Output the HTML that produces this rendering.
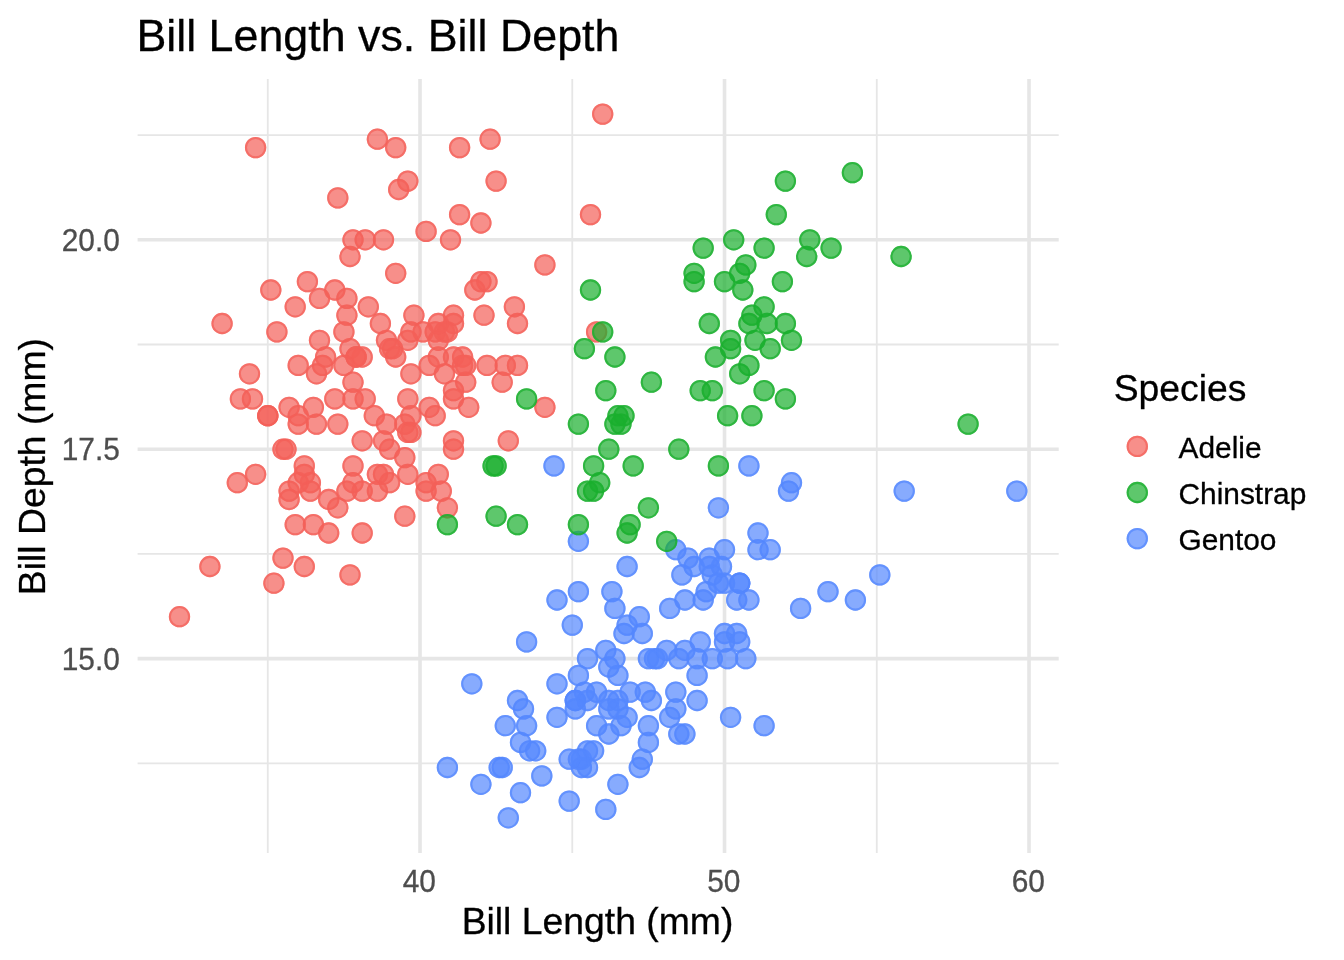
<!DOCTYPE html>
<html lang="en"><head><meta charset="utf-8"><title>Bill Length vs. Bill Depth</title>
<style>
html,body{margin:0;padding:0;background:#fff;}
body{width:1344px;height:960px;overflow:hidden;}
svg{display:block;}
text{font-family:"Liberation Sans",Arial,Helvetica,sans-serif;}
.t{font-size:44.8px;fill:#000;stroke:#000;stroke-width:.3;}
.at{font-size:37.33px;fill:#000;stroke:#000;stroke-width:.3;}
.ax{font-size:29.87px;fill:#4D4D4D;stroke:#4D4D4D;stroke-width:.3;}
.lg{font-size:29.87px;fill:#000;stroke:#000;stroke-width:.3;}
.mj{stroke:#E6E6E6;stroke-width:3.62;fill:none;}
.mn{stroke:#E6E6E6;stroke-width:1.81;fill:none;}
.pa{fill:#F46058;stroke:#F46058;}
.pg{fill:#5488FE;stroke:#5488FE;}
.pc{fill:#19AF2D;stroke:#19AF2D;}
.d{fill-opacity:0.7;stroke:none;}
.r{fill:none;stroke-opacity:0.7;stroke-width:2.05;}
</style></head><body>
<svg width="1344" height="960" viewBox="0 0 1344 960">
<rect x="0" y="0" width="1344" height="960" fill="#ffffff"/>
<defs><g id="p"><circle class="d" r="10.65"/><circle class="r" r="9.625"/></g></defs>
<g class="mn"><line x1="137.60" x2="1058.70" y1="763.36" y2="763.36"/><line x1="137.60" x2="1058.70" y1="553.92" y2="553.92"/><line x1="137.60" x2="1058.70" y1="344.47" y2="344.47"/><line x1="137.60" x2="1058.70" y1="135.03" y2="135.03"/><line x1="267.77" x2="267.77" y1="78.90" y2="853.00"/><line x1="572.27" x2="572.27" y1="78.90" y2="853.00"/><line x1="876.76" x2="876.76" y1="78.90" y2="853.00"/></g>
<g class="mj"><line x1="137.60" x2="1058.70" y1="658.64" y2="658.64"/><line x1="137.60" x2="1058.70" y1="449.19" y2="449.19"/><line x1="137.60" x2="1058.70" y1="239.75" y2="239.75"/><line x1="420.02" x2="420.02" y1="78.90" y2="853.00"/><line x1="724.52" x2="724.52" y1="78.90" y2="853.00"/><line x1="1029.01" x2="1029.01" y1="78.90" y2="853.00"/></g>
<g class="pa"><use href="#p" x="392.6" y="348.7"/><use href="#p" x="404.8" y="457.6"/><use href="#p" x="429.2" y="407.3"/><use href="#p" x="319.5" y="298.4"/>
<use href="#p" x="398.7" y="189.5"/><use href="#p" x="386.5" y="424.1"/><use href="#p" x="395.7" y="273.3"/><use href="#p" x="240.4" y="398.9"/>
<use href="#p" x="480.9" y="223.0"/><use href="#p" x="353.0" y="482.7"/><use href="#p" x="353.0" y="465.9"/><use href="#p" x="453.5" y="440.8"/>
<use href="#p" x="377.4" y="139.2"/><use href="#p" x="255.6" y="147.6"/><use href="#p" x="316.5" y="424.1"/><use href="#p" x="380.4" y="323.5"/>
<use href="#p" x="496.1" y="181.1"/><use href="#p" x="249.5" y="373.8"/><use href="#p" x="602.7" y="114.1"/><use href="#p" x="353.0" y="382.2"/>
<use href="#p" x="350.0" y="348.7"/><use href="#p" x="295.2" y="306.8"/><use href="#p" x="365.2" y="398.9"/><use href="#p" x="383.5" y="474.3"/>
<use href="#p" x="276.9" y="331.9"/><use href="#p" x="438.3" y="357.0"/><use href="#p" x="435.2" y="415.7"/><use href="#p" x="356.1" y="357.0"/>
<use href="#p" x="435.2" y="331.9"/><use href="#p" x="404.8" y="516.2"/><use href="#p" x="334.8" y="398.9"/><use href="#p" x="404.8" y="424.1"/>
<use href="#p" x="447.4" y="331.9"/><use href="#p" x="310.4" y="491.1"/><use href="#p" x="395.7" y="147.6"/><use href="#p" x="383.5" y="239.8"/>
<use href="#p" x="487.0" y="365.4"/><use href="#p" x="346.9" y="298.4"/><use href="#p" x="413.9" y="315.2"/><use href="#p" x="313.4" y="407.3"/>
<use href="#p" x="444.4" y="373.8"/><use href="#p" x="298.2" y="365.4"/><use href="#p" x="544.9" y="264.9"/><use href="#p" x="328.7" y="499.5"/>
<use href="#p" x="407.8" y="340.3"/><use href="#p" x="453.5" y="323.5"/><use href="#p" x="343.9" y="331.9"/><use href="#p" x="298.2" y="415.7"/>
<use href="#p" x="490.1" y="139.2"/><use href="#p" x="407.8" y="432.4"/><use href="#p" x="423.1" y="331.9"/><use href="#p" x="267.8" y="415.7"/>
<use href="#p" x="480.9" y="281.6"/><use href="#p" x="252.5" y="398.9"/><use href="#p" x="462.6" y="357.0"/><use href="#p" x="389.6" y="449.2"/>
<use href="#p" x="438.3" y="340.3"/><use href="#p" x="313.4" y="524.6"/><use href="#p" x="346.9" y="315.2"/><use href="#p" x="289.1" y="499.5"/>
<use href="#p" x="459.6" y="147.6"/><use href="#p" x="346.9" y="491.1"/><use href="#p" x="453.5" y="390.6"/><use href="#p" x="310.4" y="482.7"/>
<use href="#p" x="468.7" y="407.3"/><use href="#p" x="283.0" y="558.1"/><use href="#p" x="453.5" y="315.2"/><use href="#p" x="295.2" y="524.6"/>
<use href="#p" x="474.8" y="290.0"/><use href="#p" x="222.1" y="323.5"/><use href="#p" x="410.9" y="373.8"/><use href="#p" x="407.8" y="474.3"/>
<use href="#p" x="596.6" y="331.9"/><use href="#p" x="283.0" y="449.2"/><use href="#p" x="505.3" y="365.4"/><use href="#p" x="447.4" y="507.8"/>
<use href="#p" x="334.8" y="290.0"/><use href="#p" x="304.3" y="566.5"/><use href="#p" x="484.0" y="315.2"/><use href="#p" x="255.6" y="474.3"/>
<use href="#p" x="508.3" y="440.8"/><use href="#p" x="319.5" y="340.3"/><use href="#p" x="270.8" y="290.0"/><use href="#p" x="337.8" y="424.1"/>
<use href="#p" x="459.6" y="214.6"/><use href="#p" x="307.4" y="281.6"/><use href="#p" x="325.6" y="357.0"/><use href="#p" x="368.3" y="306.8"/>
<use href="#p" x="386.5" y="340.3"/><use href="#p" x="289.1" y="407.3"/><use href="#p" x="453.5" y="398.9"/><use href="#p" x="237.3" y="482.7"/>
<use href="#p" x="407.8" y="398.9"/><use href="#p" x="304.3" y="465.9"/><use href="#p" x="444.4" y="331.9"/><use href="#p" x="362.2" y="357.0"/>
<use href="#p" x="429.2" y="365.4"/><use href="#p" x="209.9" y="566.5"/><use href="#p" x="517.5" y="365.4"/><use href="#p" x="267.8" y="415.7"/>
<use href="#p" x="450.5" y="239.8"/><use href="#p" x="350.0" y="574.9"/><use href="#p" x="353.0" y="239.8"/><use href="#p" x="356.1" y="357.0"/>
<use href="#p" x="410.9" y="331.9"/><use href="#p" x="377.4" y="474.3"/><use href="#p" x="365.2" y="239.8"/><use href="#p" x="362.2" y="491.1"/>
<use href="#p" x="517.5" y="323.5"/><use href="#p" x="362.2" y="533.0"/><use href="#p" x="590.5" y="214.6"/><use href="#p" x="410.9" y="432.4"/>
<use href="#p" x="487.0" y="281.6"/><use href="#p" x="407.8" y="181.1"/><use href="#p" x="502.2" y="382.2"/><use href="#p" x="377.4" y="491.1"/>
<use href="#p" x="337.8" y="197.9"/><use href="#p" x="289.1" y="491.1"/><use href="#p" x="453.5" y="357.0"/><use href="#p" x="304.3" y="474.3"/>
<use href="#p" x="350.0" y="256.5"/><use href="#p" x="426.1" y="491.1"/><use href="#p" x="462.6" y="365.4"/><use href="#p" x="273.9" y="583.2"/>
<use href="#p" x="438.3" y="323.5"/><use href="#p" x="383.5" y="440.8"/><use href="#p" x="465.7" y="382.2"/><use href="#p" x="389.6" y="482.7"/>
<use href="#p" x="544.9" y="407.3"/><use href="#p" x="374.3" y="415.7"/><use href="#p" x="514.4" y="306.8"/><use href="#p" x="322.6" y="365.4"/>
<use href="#p" x="343.9" y="365.4"/><use href="#p" x="362.2" y="440.8"/><use href="#p" x="453.5" y="449.2"/><use href="#p" x="286.0" y="449.2"/>
<use href="#p" x="426.1" y="231.4"/><use href="#p" x="328.7" y="533.0"/><use href="#p" x="410.9" y="415.7"/><use href="#p" x="426.1" y="482.7"/>
<use href="#p" x="438.3" y="474.3"/><use href="#p" x="179.5" y="616.7"/><use href="#p" x="441.3" y="491.1"/><use href="#p" x="337.8" y="507.8"/>
<use href="#p" x="389.6" y="348.7"/><use href="#p" x="395.7" y="357.0"/><use href="#p" x="316.5" y="373.8"/><use href="#p" x="298.2" y="424.1"/>
<use href="#p" x="353.0" y="398.9"/><use href="#p" x="298.2" y="482.7"/><use href="#p" x="465.7" y="365.4"/></g>
<g class="pg"><use href="#p" x="605.8" y="809.4"/><use href="#p" x="724.5" y="549.7"/><use href="#p" x="684.9" y="734.0"/><use href="#p" x="724.5" y="641.9"/>
<use href="#p" x="651.4" y="700.5"/><use href="#p" x="617.9" y="784.3"/><use href="#p" x="584.4" y="692.1"/><use href="#p" x="624.0" y="633.5"/>
<use href="#p" x="520.5" y="792.7"/><use href="#p" x="627.1" y="625.1"/><use href="#p" x="447.4" y="767.5"/><use href="#p" x="694.1" y="566.5"/>
<use href="#p" x="587.5" y="767.5"/><use href="#p" x="675.8" y="692.1"/><use href="#p" x="596.6" y="692.1"/><use href="#p" x="703.2" y="600.0"/>
<use href="#p" x="480.9" y="784.3"/><use href="#p" x="700.2" y="641.9"/><use href="#p" x="608.8" y="700.5"/><use href="#p" x="684.9" y="650.3"/>
<use href="#p" x="730.6" y="717.3"/><use href="#p" x="575.3" y="700.5"/><use href="#p" x="617.9" y="700.5"/><use href="#p" x="611.9" y="591.6"/>
<use href="#p" x="508.3" y="817.8"/><use href="#p" x="605.8" y="650.3"/><use href="#p" x="557.0" y="717.3"/><use href="#p" x="657.5" y="658.6"/>
<use href="#p" x="669.7" y="717.3"/><use href="#p" x="724.5" y="633.5"/><use href="#p" x="642.3" y="633.5"/><use href="#p" x="505.3" y="725.7"/>
<use href="#p" x="575.3" y="700.5"/><use href="#p" x="1016.8" y="491.1"/><use href="#p" x="697.1" y="675.4"/><use href="#p" x="675.8" y="549.7"/>
<use href="#p" x="499.2" y="767.5"/><use href="#p" x="554.0" y="465.9"/><use href="#p" x="541.8" y="775.9"/><use href="#p" x="684.9" y="600.0"/>
<use href="#p" x="502.2" y="767.5"/><use href="#p" x="712.3" y="574.9"/><use href="#p" x="581.4" y="767.5"/><use href="#p" x="712.3" y="658.6"/>
<use href="#p" x="739.7" y="583.2"/><use href="#p" x="529.6" y="750.8"/><use href="#p" x="587.5" y="750.8"/><use href="#p" x="739.7" y="583.2"/>
<use href="#p" x="569.2" y="801.1"/><use href="#p" x="578.4" y="591.6"/><use href="#p" x="621.0" y="725.7"/><use href="#p" x="678.8" y="734.0"/>
<use href="#p" x="575.3" y="708.9"/><use href="#p" x="727.6" y="658.6"/><use href="#p" x="617.9" y="708.9"/><use href="#p" x="572.3" y="625.1"/>
<use href="#p" x="535.7" y="750.8"/><use href="#p" x="587.5" y="658.6"/><use href="#p" x="517.5" y="700.5"/><use href="#p" x="736.7" y="633.5"/>
<use href="#p" x="581.4" y="759.2"/><use href="#p" x="608.8" y="667.0"/><use href="#p" x="593.6" y="750.8"/><use href="#p" x="855.4" y="600.0"/>
<use href="#p" x="596.6" y="725.7"/><use href="#p" x="718.4" y="507.8"/><use href="#p" x="608.8" y="708.9"/><use href="#p" x="709.3" y="558.1"/>
<use href="#p" x="526.6" y="725.7"/><use href="#p" x="745.8" y="658.6"/><use href="#p" x="654.5" y="658.6"/><use href="#p" x="614.9" y="608.4"/>
<use href="#p" x="669.7" y="608.4"/><use href="#p" x="617.9" y="675.4"/><use href="#p" x="614.9" y="658.6"/><use href="#p" x="681.9" y="574.9"/>
<use href="#p" x="648.4" y="725.7"/><use href="#p" x="758.0" y="549.7"/><use href="#p" x="578.4" y="759.2"/><use href="#p" x="578.4" y="541.3"/>
<use href="#p" x="697.1" y="700.5"/><use href="#p" x="800.6" y="608.4"/><use href="#p" x="645.3" y="692.1"/><use href="#p" x="724.5" y="583.2"/>
<use href="#p" x="569.2" y="759.2"/><use href="#p" x="748.9" y="465.9"/><use href="#p" x="523.5" y="708.9"/><use href="#p" x="764.1" y="725.7"/>
<use href="#p" x="648.4" y="742.4"/><use href="#p" x="788.5" y="491.1"/><use href="#p" x="648.4" y="658.6"/><use href="#p" x="791.5" y="482.7"/>
<use href="#p" x="587.5" y="700.5"/><use href="#p" x="709.3" y="566.5"/><use href="#p" x="557.0" y="683.8"/><use href="#p" x="748.9" y="600.0"/>
<use href="#p" x="706.2" y="591.6"/><use href="#p" x="630.1" y="692.1"/><use href="#p" x="675.8" y="708.9"/><use href="#p" x="758.0" y="533.0"/>
<use href="#p" x="678.8" y="658.6"/><use href="#p" x="904.2" y="491.1"/><use href="#p" x="639.3" y="616.7"/><use href="#p" x="697.1" y="658.6"/>
<use href="#p" x="642.3" y="759.2"/><use href="#p" x="627.1" y="566.5"/><use href="#p" x="471.8" y="683.8"/><use href="#p" x="828.0" y="591.6"/>
<use href="#p" x="520.5" y="742.4"/><use href="#p" x="666.7" y="650.3"/><use href="#p" x="739.7" y="641.9"/><use href="#p" x="718.4" y="583.2"/>
<use href="#p" x="526.6" y="641.9"/><use href="#p" x="770.2" y="549.7"/><use href="#p" x="608.8" y="734.0"/><use href="#p" x="879.8" y="574.9"/>
<use href="#p" x="557.0" y="600.0"/><use href="#p" x="688.0" y="558.1"/><use href="#p" x="639.3" y="767.5"/><use href="#p" x="627.1" y="717.3"/>
<use href="#p" x="736.7" y="600.0"/><use href="#p" x="578.4" y="675.4"/><use href="#p" x="721.5" y="566.5"/></g>
<g class="pc"><use href="#p" x="617.9" y="415.7"/><use href="#p" x="724.5" y="281.6"/><use href="#p" x="764.1" y="306.8"/><use href="#p" x="584.4" y="348.7"/>
<use href="#p" x="806.7" y="256.5"/><use href="#p" x="578.4" y="424.1"/><use href="#p" x="605.8" y="390.6"/><use href="#p" x="764.1" y="390.6"/>
<use href="#p" x="602.7" y="331.9"/><use href="#p" x="764.1" y="248.1"/><use href="#p" x="621.0" y="424.1"/><use href="#p" x="776.3" y="214.6"/>
<use href="#p" x="633.2" y="465.9"/><use href="#p" x="785.4" y="398.9"/><use href="#p" x="599.7" y="482.7"/><use href="#p" x="739.7" y="273.3"/>
<use href="#p" x="733.7" y="239.8"/><use href="#p" x="968.1" y="424.1"/><use href="#p" x="614.9" y="357.0"/><use href="#p" x="700.2" y="390.6"/>
<use href="#p" x="493.1" y="465.9"/><use href="#p" x="678.8" y="449.2"/><use href="#p" x="517.5" y="524.6"/><use href="#p" x="742.8" y="290.0"/>
<use href="#p" x="624.0" y="415.7"/><use href="#p" x="785.4" y="323.5"/><use href="#p" x="739.7" y="373.8"/><use href="#p" x="709.3" y="323.5"/>
<use href="#p" x="614.9" y="424.1"/><use href="#p" x="809.8" y="239.8"/><use href="#p" x="447.4" y="524.6"/><use href="#p" x="852.4" y="172.7"/>
<use href="#p" x="496.1" y="516.2"/><use href="#p" x="755.0" y="340.3"/><use href="#p" x="715.4" y="357.0"/><use href="#p" x="648.4" y="507.8"/>
<use href="#p" x="651.4" y="382.2"/><use href="#p" x="785.4" y="181.1"/><use href="#p" x="630.1" y="524.6"/><use href="#p" x="831.1" y="248.1"/>
<use href="#p" x="694.1" y="281.6"/><use href="#p" x="608.8" y="449.2"/><use href="#p" x="751.9" y="315.2"/><use href="#p" x="587.5" y="491.1"/>
<use href="#p" x="751.9" y="415.7"/><use href="#p" x="748.9" y="365.4"/><use href="#p" x="727.6" y="415.7"/><use href="#p" x="694.1" y="273.3"/>
<use href="#p" x="770.2" y="348.7"/><use href="#p" x="718.4" y="465.9"/><use href="#p" x="666.7" y="541.3"/><use href="#p" x="767.1" y="323.5"/>
<use href="#p" x="593.6" y="465.9"/><use href="#p" x="745.8" y="264.9"/><use href="#p" x="496.1" y="465.9"/><use href="#p" x="791.5" y="340.3"/>
<use href="#p" x="578.4" y="524.6"/><use href="#p" x="703.2" y="248.1"/><use href="#p" x="730.6" y="340.3"/><use href="#p" x="590.5" y="290.0"/>
<use href="#p" x="782.4" y="281.6"/><use href="#p" x="627.1" y="533.0"/><use href="#p" x="593.6" y="491.1"/><use href="#p" x="901.1" y="256.5"/>
<use href="#p" x="526.6" y="398.9"/><use href="#p" x="712.3" y="390.6"/><use href="#p" x="748.9" y="323.5"/><use href="#p" x="730.6" y="348.7"/>
</g>
<text class="t" transform="translate(136.4 50.8)">Bill Length vs. Bill Depth</text>
<text class="ax" text-anchor="end" transform="translate(119.8 669.7) scale(1 1.02)">15.0</text>
<text class="ax" text-anchor="end" transform="translate(119.8 460.3) scale(1 1.02)">17.5</text>
<text class="ax" text-anchor="end" transform="translate(119.8 250.9) scale(1 1.02)">20.0</text>
<text class="ax" text-anchor="middle" transform="translate(419.3 891.8) scale(1 1.02)">40</text>
<text class="ax" text-anchor="middle" transform="translate(723.8 891.8) scale(1 1.02)">50</text>
<text class="ax" text-anchor="middle" transform="translate(1028.3 891.8) scale(1 1.02)">60</text>
<text class="at" text-anchor="middle" transform="translate(597.5 934.3)">Bill Length (mm)</text>
<text class="at" text-anchor="middle" transform="translate(44.5 466.6) rotate(-90)">Bill Depth (mm)</text>
<text class="at" transform="translate(1113.7 400.6)">Species</text>
<use class="pa" href="#p" x="1137.3" y="446.4"/><text class="lg" transform="translate(1178.5 457.7)">Adelie</text>
<use class="pc" href="#p" x="1137.3" y="492.5"/><text class="lg" transform="translate(1178.5 503.8)">Chinstrap</text>
<use class="pg" href="#p" x="1137.3" y="538.6"/><text class="lg" transform="translate(1178.5 549.9)">Gentoo</text>
</svg>
</body></html>
